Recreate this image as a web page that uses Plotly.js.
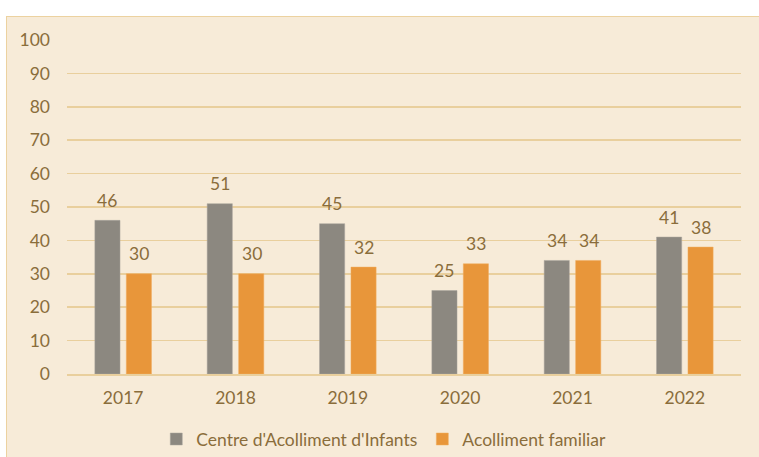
<!DOCTYPE html>
<html>
<head>
<meta charset="utf-8">
<script src="https://cdn.plot.ly/plotly-3.0.1.min.js"></script>
<style>
  body { margin: 0; background: #ffffff; }
  #chart {
    position: absolute; left: 6px; top: 16px;
    width: 753px; height: 441px;
    border-top: 1px solid #ecd2a0; border-left: 1px solid #ecd2a0;
    box-sizing: border-box;
  }
</style>
</head>
<body>
<div id="chart"></div>
<script>
// chart data
const years = ['2017', '2018', '2019', '2020', '2021', '2022'];
const centreInfants = [46, 51, 45, 25, 34, 41];
const acollimentFamiliar = [30, 30, 32, 33, 34, 38];
const seriesNames = ["Centre d'Acolliment d'Infants", 'Acolliment familiar'];

const textColor = '#8a6d3b';
const fontFam = 'Lato, "Open Sans", sans-serif';
const fontSize = 17.5;
const barOffset = 16; // px from category centre to each bar centre

const traces = [
  {
    x: years,
    y: centreInfants,
    name: seriesNames[0],
    type: 'bar',
    marker: { color: '#8c8880', line: { color: '#a9a59c', width: 0.5 } },
  },
  {
    x: years,
    y: acollimentFamiliar,
    name: seriesNames[1],
    type: 'bar',
    marker: { color: '#e8963a', line: { color: '#f0ad5e', width: 0.5 } },
  },
];

// value labels sit a bit above the bars, like the original
// (category axis: annotation x is the category index)
const labels = [];
[centreInfants, acollimentFamiliar].forEach((vals, s) => {
  vals.forEach((v, i) => {
    labels.push({
      x: i,
      y: v,
      text: String(v),
      showarrow: false,
      xshift: s === 0 ? -barOffset : barOffset,
      yshift: 20,
      font: { size: fontSize, color: textColor, family: fontFam },
    });
  });
});

const layout = {
  width: 753,
  height: 441,
  paper_bgcolor: '#f7ebd8',
  plot_bgcolor: '#f7ebd8',
  font: { family: fontFam, color: textColor, size: fontSize },
  margin: { l: 60, r: 19, t: 23, b: 84, autoexpand: false },
  barmode: 'group',
  bargap: 0.44,
  bargroupgap: 0.2,
  annotations: labels,
  showlegend: true,
  legend: {
    orientation: 'h',
    x: 0.47,
    xanchor: 'center',
    y: -0.195,
    yanchor: 'middle',
    font: { size: fontSize, color: textColor },
    itemwidth: 30,
    traceorder: 'normal',
  },
  xaxis: {
    type: 'category',
    showgrid: false,
    showline: true,
    linecolor: '#e9cf9d',
    linewidth: 1.5,
    ticks: '',
    ticklabelstandoff: 7,
    automargin: false,
    tickfont: { size: fontSize, color: textColor },
  },
  yaxis: {
    range: [0, 100],
    dtick: 10,
    showgrid: true,
    gridcolor: '#e9cf9d',
    gridwidth: 1.5,
    zeroline: false,
    showline: false,
    ticks: '',
    ticklabelstandoff: 16,
    automargin: false,
    tickfont: { size: fontSize, color: textColor },
  },
};

Plotly.newPlot('chart', traces, layout, { displayModeBar: false, staticPlot: true });
</script>
</body>
</html>
